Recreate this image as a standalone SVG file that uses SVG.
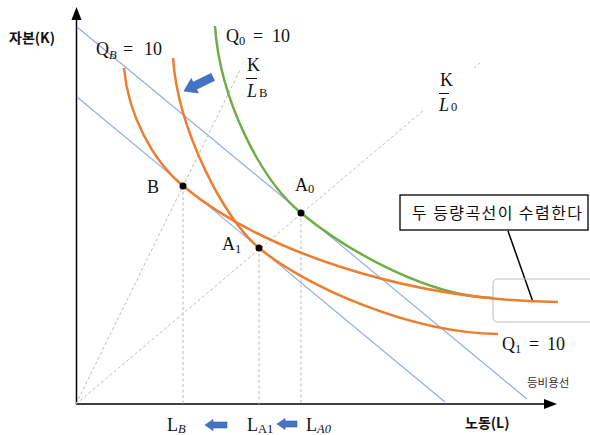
<svg xmlns="http://www.w3.org/2000/svg" width="590" height="435" viewBox="0 0 590 435">
<defs>
<style>
.ax{stroke:#000;stroke-width:1.5;fill:none}
.iso{stroke:#8FAADC;stroke-width:1.1;fill:none}
.dash{stroke:#bcbcb0;stroke-width:1;stroke-dasharray:3 2.5;fill:none}
.or{stroke:#ED7D31;stroke-width:2.5;fill:none}
.gr{stroke:#70AD47;stroke-width:2.5;fill:none}
.m{font-family:"Liberation Serif","DejaVu Serif",serif;font-size:18px;fill:#111}
.ms{font-family:"Liberation Serif","DejaVu Serif",serif;font-size:12.5px;fill:#111}
.kb{font-family:"Noto Sans CJK KR","Noto Sans",sans-serif;font-weight:bold;font-size:14px;fill:#111}
.ks{font-family:"Noto Sans CJK KR","Noto Sans",sans-serif;font-size:11.5px;fill:#333}
.kt{font-family:"Noto Sans CJK KR","Noto Sans",sans-serif;font-size:16px;fill:#111}
.bar{stroke:#111;stroke-width:1}
.dot{fill:#000}
.arr{fill:#4472C4;stroke:#3A62AA;stroke-width:0.6}
</style>
</defs>

<g id="connectors">
<line class="ax" x1="76.5" y1="404" x2="76.5" y2="12"/>
<path d="M71.5,20 L76.5,7 L81.5,20 z" fill="#000"/>
<line class="ax" x1="76" y1="404" x2="545" y2="404"/>
<path d="M544,399 L557,404 L544,409 z" fill="#000"/>

<line class="iso" x1="77" y1="27" x2="527" y2="399"/>
<line class="iso" x1="77" y1="97" x2="445" y2="402"/>

<line class="dash" x1="76" y1="404" x2="240" y2="70"/>
<line class="dash" x1="76" y1="404" x2="424" y2="110"/>
<line class="dash" x1="474" y1="68" x2="480" y2="63"/>
<line class="dash" x1="183" y1="186" x2="183" y2="404"/>
<line class="dash" x1="259" y1="248" x2="259" y2="404"/>
<line class="dash" x1="301" y1="213" x2="301" y2="404"/>

<line x1="508" y1="231" x2="533" y2="302" stroke="#000" stroke-width="1.5"/>
</g>

<g id="rounded-box">
<path d="M590,279 L498,279 Q493,279 493,284 L493,317 Q493,322 498,322 L590,322" fill="none" stroke="#bdbdbd" stroke-width="1"/>
</g>

<g id="Q0">
<path class="gr" d="M215,26 C220,100 261,180 301,213 C351,254 430,296 493,298"/>
</g>
<g id="QB">
<path class="or" d="M124,68 C128,115 153,161 183,186 C258,248 400,300 558,302"/>
</g>
<g id="Q1">
<path class="or" d="M173,58 C178,130 224,219 259,248 C305,286 410,333 498,334"/>
</g>

<g id="point-B"><circle class="dot" cx="183" cy="186" r="3.5"/><text class="m" x="147" y="193">B</text></g>
<g id="point-A1"><circle class="dot" cx="259" cy="248" r="3.5"/><text class="m" x="222" y="250">A<tspan class="ms" dy="3">1</tspan></text></g>
<g id="point-A0"><circle class="dot" cx="301" cy="213" r="3.5"/><text class="m" x="295" y="191">A<tspan class="ms" dy="2">0</tspan></text></g>

<g id="labels">
<text class="kb" x="9" y="43">자본(K)</text>
<text class="kb" x="465" y="428">노동(L)</text>
<text class="ks" x="527" y="387">등비용선</text>

<text class="m" x="96" y="55">Q<tspan class="ms" font-style="italic" dy="4">B</tspan></text>
<text class="m" x="123" y="55">=</text>
<text class="m" x="144" y="55">10</text>

<text class="m" x="226" y="42">Q<tspan class="ms" dy="3">0</tspan></text>
<text class="m" x="253" y="42">=</text>
<text class="m" x="272" y="42">10</text>

<text class="m" x="502" y="350">Q<tspan class="ms" dy="3">1</tspan></text>
<text class="m" x="529" y="350">=</text>
<text class="m" x="547" y="350">10</text>

<text class="m" x="247" y="71" font-size="15">K</text>
<line class="bar" x1="246" y1="78.5" x2="257" y2="78.5"/>
<text class="m" x="247" y="97" font-size="15" font-style="italic">L<tspan class="ms" font-style="normal" dx="2">B</tspan></text>

<text class="m" x="440" y="86" font-size="15">K</text>
<line class="bar" x1="439" y1="93.5" x2="449" y2="93.5"/>
<text class="m" x="439" y="111" font-size="15" font-style="italic">L<tspan class="ms" font-style="normal" dx="2">0</tspan></text>

<text class="m" x="167" y="431">L<tspan class="ms" font-style="italic" dy="2">B</tspan></text>
<text class="m" x="247" y="431">L<tspan class="ms" dy="2">A1</tspan></text>
<text class="m" x="306" y="431">L<tspan class="ms" font-style="italic" dy="2">A0</tspan></text>
</g>

<g id="callout-box">
<rect x="400" y="195" width="188" height="35" fill="#fff" stroke="#000" stroke-width="1.3"/>
<text class="kt" x="412" y="219" textLength="170" lengthAdjust="spacing">두 등량곡선이 수렴한다</text>
</g>

<g id="shift-arrows">
<polygon class="arr" points="0,0 12,-8 12,-4 32,-4 32,4 12,4 12,8" transform="translate(184,91) rotate(-26)"/>
<polygon class="arr" points="0,0 8,-5.5 8,-3 22,-3 22,3 8,3 8,5.5" transform="translate(205,425)"/>
<polygon class="arr" points="0,0 8,-5.5 8,-3 20,-3 20,3 8,3 8,5.5" transform="translate(277,424)"/>
</g>
</svg>
